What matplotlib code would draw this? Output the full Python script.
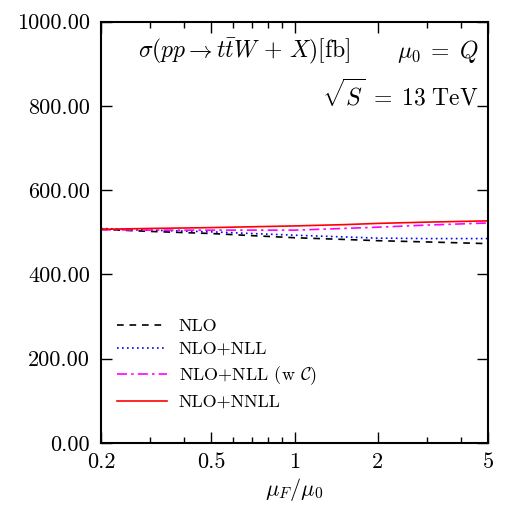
import matplotlib
matplotlib.use("Agg")
import matplotlib.pyplot as plt
from matplotlib.ticker import FixedLocator, FixedFormatter, NullFormatter, LogLocator

plt.rcParams['font.family'] = 'serif'
plt.rcParams['font.serif'] = ['cmr10']
plt.rcParams['mathtext.fontset'] = 'cm'
plt.rcParams['axes.unicode_minus'] = False
plt.rcParams['axes.formatter.use_mathtext'] = True

mu = [0.2, 0.3, 0.5, 0.7, 1.0, 1.5, 2.0, 3.0, 5.0]
nlo = [507, 502, 497, 492, 487, 483, 480, 477, 473]
nlo_nll = [509, 505, 501, 497, 493, 489, 486, 485, 485]
nlo_nll_c = [506, 505, 505, 505, 505, 509, 512, 517, 522]
nlo_nnll = [507, 509, 511, 513, 515, 518, 521, 524, 527]

labels = ['NLO', 'NLO+NLL', r'NLO+NLL (w $\mathcal{C}$)', 'NLO+NNLL']
yticks = [0, 200, 400, 600, 800, 1000]
ytick_labels = ['0.00', '200.00', '400.00', '600.00', '800.00', '1000.00']
xticks = [0.2, 0.5, 1, 2, 5]
xtick_labels = ['0.2', '0.5', '1', '2', '5']

fig = plt.figure(figsize=(5.19, 5.05), dpi=100)
ax = fig.add_axes([0.1946, 0.1228, 0.9403 - 0.1946, 0.9574 - 0.1228])

ax.plot(mu, nlo, color='black', linestyle=(0, (4, 3.5)), lw=1.2, label=labels[0])
ax.plot(mu, nlo_nll, color='blue', linestyle=(0, (1, 2)), lw=1.2, label=labels[1])
ax.plot(mu, nlo_nll_c, color='magenta', linestyle=(0, (6, 2.5, 1.5, 2.5)), lw=1.2, label=labels[2])
ax.plot(mu, nlo_nnll, color='red', linestyle='-', lw=1.2, label=labels[3])

ax.set_xscale('log')
ax.set_xlim(0.2, 5)
ax.set_ylim(0, 1000)
ax.xaxis.set_major_locator(FixedLocator(xticks))
ax.xaxis.set_major_formatter(FixedFormatter(xtick_labels))
ax.xaxis.set_minor_locator(LogLocator(base=10, subs=range(1, 10), numticks=20))
ax.xaxis.set_minor_formatter(NullFormatter())
ax.yaxis.set_major_locator(FixedLocator(yticks))
ax.yaxis.set_major_formatter(FixedFormatter(ytick_labels))

for s in ax.spines.values():
    s.set_linewidth(1.5)
ax.tick_params(which='both', direction='in', top=True, right=True, labelsize=16, width=1.0)
ax.tick_params(which='major', length=8, pad=8)
ax.tick_params(axis='x', which='major', pad=6.5)
ax.tick_params(which='minor', length=4)

ax.set_xlabel(r'$\mu_F/\mu_0$', fontsize=16, labelpad=3)

ax.text(0.095, 0.93, r'$\sigma(pp\rightarrow t\bar{t}W\,+\,X)[\mathrm{fb}]$', transform=ax.transAxes,
        fontsize=17, ha='left', va='center')
ax.text(0.975, 0.93, r'$\mu_0\;=\;Q$', transform=ax.transAxes, fontsize=17, ha='right', va='center')
ax.text(0.975, 0.825, r'$\sqrt{S}\;=\;13\ \mathrm{TeV}$', transform=ax.transAxes, fontsize=17,
        ha='right', va='center')

leg = ax.legend(loc='lower left', frameon=False, fontsize=13, handlelength=2.75,
                handletextpad=0.65, labelspacing=0.4, bbox_to_anchor=(0.0, 0.04))

fig.savefig('out.png', dpi=100)
